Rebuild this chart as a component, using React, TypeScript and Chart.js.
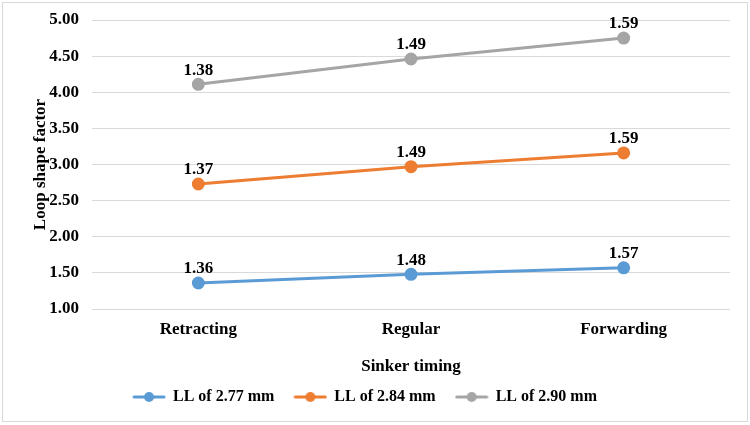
import React, { useEffect, useRef } from "react";
import { Chart, registerables } from "chart.js";

Chart.register(...registerables);

const categories = ["Retracting", "Regular", "Forwarding"];
const seriesNames = ["LL of 2.77 mm", "LL of 2.84 mm", "LL of 2.90 mm"];
const ll277 = [1.36, 1.48, 1.57];
const ll284 = [1.37, 1.49, 1.59];
const ll290 = [1.38, 1.49, 1.59];
const colors = ["#5B9BD5", "#ED7D31", "#A5A5A5"];
const yTicks = { min: 1, max: 5, step: 0.5 };

const FONT = "'Liberation Serif', 'Times New Roman', serif";

function legendIcon(color: string): HTMLCanvasElement {
  const c = document.createElement("canvas");
  c.width = 34;
  c.height = 12;
  const ctx = c.getContext("2d")!;
  ctx.strokeStyle = color;
  ctx.lineWidth = 3;
  ctx.lineCap = "round";
  ctx.beginPath();
  ctx.moveTo(2, 6);
  ctx.lineTo(32, 6);
  ctx.stroke();
  ctx.fillStyle = color;
  ctx.beginPath();
  ctx.arc(17, 6, 5, 0, Math.PI * 2);
  ctx.fill();
  return c;
}

const labelPlugin = {
  id: "valueLabels",
  afterDatasetsDraw(chart: any) {
    const ctx = chart.ctx;
    ctx.save();
    ctx.font = `bold 17px ${FONT}`;
    ctx.fillStyle = "#000";
    ctx.textAlign = "center";
    ctx.textBaseline = "middle";
    chart.data.datasets.forEach((ds: any, i: number) => {
      const meta = chart.getDatasetMeta(i);
      meta.data.forEach((pt: any, j: number) => {
        ctx.fillText(Number(ds.data[j]).toFixed(2), pt.x, pt.y - 14);
      });
    });
    ctx.restore();
  },
};

const borderPlugin = {
  id: "outerBorder",
  afterDraw(chart: any) {
    const ctx = chart.ctx;
    ctx.save();
    ctx.strokeStyle = "#d9d9d9";
    ctx.lineWidth = 1;
    ctx.strokeRect(2.5, 2.5, 745, 419);
    ctx.restore();
  },
};

export default function App() {
  const ref = useRef<HTMLCanvasElement>(null);
  useEffect(() => {
    const seriesData = [ll277, ll284, ll290];
    const chart = new Chart(ref.current!, {
      type: "line",
      data: {
        labels: categories,
        datasets: seriesNames.map((name, i) => ({
          label: name,
          data: seriesData[i],
          borderColor: colors[i],
          backgroundColor: colors[i],
          borderWidth: 3,
          pointRadius: 5,
          pointStyle: "circle",
          pointBackgroundColor: colors[i],
          pointBorderColor: colors[i],
          fill: false,
          tension: 0,
        })),
      },
      options: {
        animation: false,
        responsive: false,
        maintainAspectRatio: false,
        layout: { padding: { left: 0, right: 20, top: 20, bottom: 10 } },
        scales: {
          x: {
            offset: true,
            grid: { display: false },
            border: { display: false },
            ticks: {
              color: "#000",
              font: { family: FONT, size: 17, weight: "bold" },
              padding: 2,
            },
            title: {
              display: true,
              text: "Sinker timing",
              color: "#000",
              font: { family: FONT, size: 17, weight: "bold" },
              padding: { top: 14, bottom: -8 },
            },
            afterFit: (s: any) => {
              s.height = 60;
            },
          },
          y: {
            stacked: true,
            min: yTicks.min,
            max: yTicks.max,
            grid: { color: "#d9d9d9", drawTicks: false, lineWidth: 1 },
            border: { display: false },
            ticks: {
              stepSize: yTicks.step,
              color: "#000",
              font: { family: FONT, size: 17, weight: "bold", lineHeight: 1 },
              padding: 13,
              callback: (v: any) => Number(v).toFixed(2),
            },
            title: {
              display: true,
              text: "Loop shape factor",
              color: "#000",
              font: { family: FONT, size: 17, weight: "bold" },
              padding: { top: 30, bottom: 0 },
            },
            afterFit: (s: any) => {
              s.width = 92;
              s.paddingTop = 0;
            },
          },
        },
        plugins: {
          legend: {
            position: "bottom",
            labels: {
              usePointStyle: true,
              pointStyleWidth: 32,
              color: "#000",
              font: { family: FONT, size: 16, weight: "bold" },
              padding: 20,
              generateLabels: (chart: any) =>
                chart.data.datasets.map((ds: any, i: number) => ({
                  text: ds.label,
                  pointStyle: legendIcon(colors[i]),
                  fillStyle: colors[i],
                  strokeStyle: colors[i],
                  lineWidth: 0,
                  hidden: false,
                  datasetIndex: i,
                  fontColor: "#000",
                })),
            },
          },
          tooltip: { enabled: false },
        },
      },
      plugins: [labelPlugin, borderPlugin],
    });
    return () => chart.destroy();
  }, []);
  return (
    <div style={{ position: "fixed", left: 0, top: 0, width: 750, height: 425, background: "#fff" }}>
      <canvas ref={ref} width={750} height={425} style={{ width: 750, height: 425 }} />
    </div>
  );
}
